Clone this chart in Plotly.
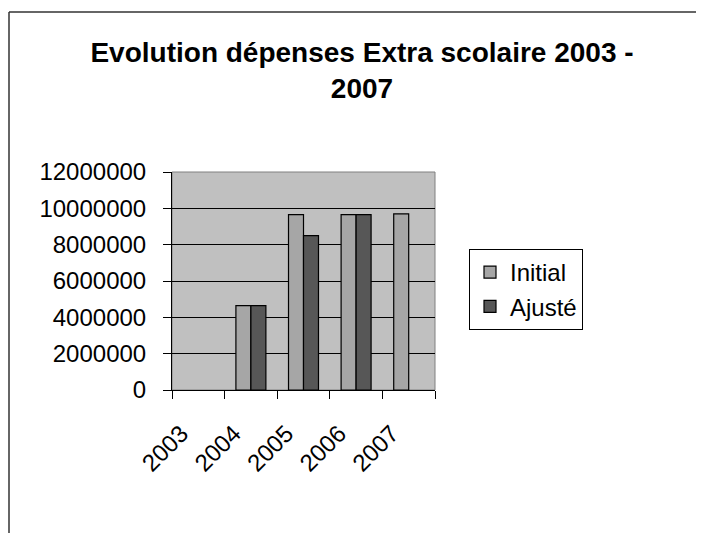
import plotly.graph_objects as go

years = ["2003", "2004", "2005", "2006", "2007"]
initial = [None, 4650000, 9650000, 9650000, 9700000]
ajuste = [None, 4650000, 8500000, 9650000, None]
y_ticks = [0, 2000000, 4000000, 6000000, 8000000, 10000000, 12000000]

# page has an 8px body margin, so the figure sits at (8, 8)
OFF = 8
W, H = 696, 525
L, T = 172 - OFF, 172 - OFF
R, B = W - (435 - OFF), H - (390 - OFF)
pw, ph = W - L - R, H - T - B


def px(x):
    return (x - OFF - L) / pw


def py(y):
    return (H - B - (y - OFF)) / ph


FONT = "Arial, Liberation Sans, sans-serif"

fig = go.Figure()
fig.add_trace(go.Bar(x=years, y=initial, name="Initial",
                     marker=dict(color="#A6A6A6", line=dict(color="black", width=1.2))))
fig.add_trace(go.Bar(x=years, y=ajuste, name="Ajusté",
                     marker=dict(color="#575757", line=dict(color="black", width=1.2))))

fig.update_layout(
    width=W, height=H,
    margin=dict(l=L, r=R, t=T, b=B),
    paper_bgcolor="white",
    plot_bgcolor="#C0C0C0",
    barmode="group",
    bargap=0.43,
    bargroupgap=0,
    font=dict(family=FONT, color="black", size=24),
    title=dict(text="<b>Evolution dépenses Extra scolaire 2003 -<br>2007</b>",
               font=dict(size=28, family=FONT, color="black"),
               x=(362 - OFF) / W, xanchor="center", y=1 - 54 / H, yanchor="top"),
    legend=dict(x=px(469), y=py(249), xanchor="left", yanchor="top",
                bordercolor="black", borderwidth=1, bgcolor="white",
                font=dict(size=24, family=FONT), tracegroupgap=0),
    shapes=[
        dict(type="rect", xref="paper", yref="paper", x0=0, x1=1, y0=0, y1=1,
             line=dict(color="#808080", width=1), layer="below"),
        dict(type="line", xref="paper", yref="paper", x0=px(9), x1=px(9), y0=py(12), y1=py(560),
             line=dict(color="#333333", width=1.5)),
        dict(type="line", xref="paper", yref="paper", x0=px(9), x1=px(720), y0=py(12), y1=py(12),
             line=dict(color="#333333", width=1.5)),
    ],
)

fig.update_xaxes(type="category", tickson="boundaries", ticks="outside", ticklen=8,
                 tickcolor="black", showline=True, linecolor="black", linewidth=1,
                 tickangle=-45, showgrid=False, ticklabelstandoff=19, ticklabelshift=-17)
fig.update_yaxes(range=[0, 12000000], tickvals=y_ticks, tickformat="d",
                 ticks="outside", ticklen=8, tickcolor="black", showline=True,
                 linecolor="black", linewidth=1, gridcolor="black", gridwidth=1,
                 zeroline=False, ticklabelstandoff=12)

fig.write_html("out.html")
